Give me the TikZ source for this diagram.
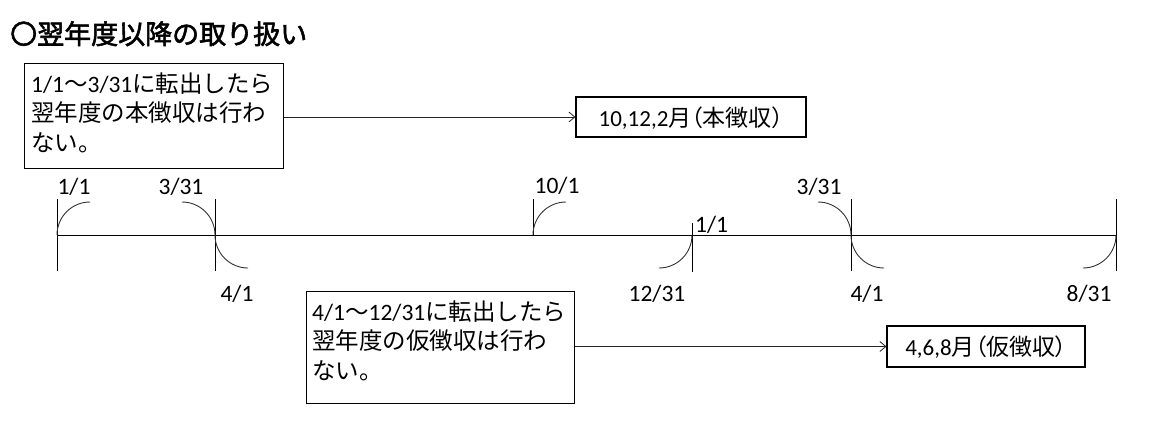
\documentclass[tikz,border=0pt]{standalone}
\usepackage{fontspec}
\setmainfont{Carlito}
\newfontfamily\jpf{Noto Sans CJK JP}
\newfontfamily\jpp[RawFeature=+palt]{Noto Sans CJK JP}
\newfontfamily\jpb[FakeBold=2]{Noto Sans CJK JP}
\newcommand\jtxt[1]{{\jpf #1}}
\newcommand\jpar[1]{{\jpp #1}}
\usetikzlibrary{arrows.meta}
\tikzset{
  txt/.style={inner sep=0pt, font=\fontsize{23.5}{28}\selectfont},
  boxtxt/.style={inner sep=0pt, font=\fontsize{23}{28}\selectfont, text height=20pt, text depth=2pt},
  boxframe/.style={draw=black, line width=1.1pt, inner sep=0pt},
  axisline/.style={draw=black, line width=1pt},
  tickline/.style={draw=black, line width=1pt},
  curvearc/.style={draw=black!80, line width=0.9pt},
  conn/.style={draw=black!85, line width=0.8pt, -{Straight Barb[length=6pt,width=10pt,line width=0.8pt]}}
}
\begin{document}
\begin{tikzpicture}[x=1pt,y=-1pt]
\useasboundingbox (0,0) rectangle (1157,437);
% title
\node[inner sep=0pt, anchor=base west, font=\fontsize{27}{32}\selectfont\jpb] (title) at (10,44) {〇翌年度以降の取り扱い};
% box 1
\node[boxframe, minimum width=259pt, minimum height=105pt, anchor=north west] (b1) at (24,63) {};
\node[txt, anchor=base west] (b1l1) at (31,92) {1/1\jtxt{～}3/31\jtxt{に転出したら}};
\node[txt, anchor=base west] (b1l2) at (31,121.5) {\jtxt{翌年度の本徴収は行わ}};
\node[txt, anchor=base west] (b1l3) at (31,151) {\jtxt{ない。}};
% box 2
\node[boxframe, boxtxt, minimum width=230pt, minimum height=40pt] (b2) at (691,117) {10,12,2\jtxt{月}\jpar{（}\jtxt{本徴収}\jpar{）}};
\draw[conn] (b1.east |- b2.west) -- (b2.west);
% box 3
\node[boxframe, minimum width=268pt, minimum height=112pt, anchor=north west] (b3) at (306,291) {};
\node[txt, anchor=base west] (b3l1) at (312,320) {4/1\jtxt{～}12/31\jtxt{に転出したら}};
\node[txt, anchor=base west] (b3l2) at (312,349.5) {\jtxt{翌年度の仮徴収は行わ}};
\node[txt, anchor=base west] (b3l3) at (312,379) {\jtxt{ない。}};
% box 4
\node[boxframe, boxtxt, minimum width=198pt, minimum height=41pt] (b4) at (986,346.5) {4,6,8\jtxt{月}\jpar{（}\jtxt{仮徴収}\jpar{）}};
\draw[conn] (b3.east |- b4.west) -- (b4.west);
% timeline points
\coordinate (p1) at (57,235);
\coordinate (p2) at (215,235);
\coordinate (p3) at (533,235);
\coordinate (p4) at (692,235);
\coordinate (p5) at (851,235);
\coordinate (p6) at (1116,235);
\draw[axisline] (p1) -- (p6);
% ticks
\draw[tickline] ([yshift=36pt]p1) -- ([yshift=-36pt]p1);
\draw[tickline] ([yshift=36pt]p2) -- ([yshift=-36pt]p2);
\draw[tickline] ([yshift=36pt]p3) -- (p3);
\draw[tickline] ([yshift=12pt]p4) -- ([yshift=-37pt]p4);
\draw[tickline] ([yshift=36pt]p5) -- ([yshift=-36pt]p5);
\draw[tickline] ([yshift=36pt]p6) -- ([yshift=-36pt]p6);
% curves
\draw[curvearc] (p1) arc[start angle=180, end angle=270, radius=33];
\draw[curvearc] (p2) arc[start angle=0, end angle=-90, radius=33];
\draw[curvearc] (p2) arc[start angle=180, end angle=90, radius=33];
\draw[curvearc] (p3) arc[start angle=180, end angle=270, radius=33];
\draw[curvearc] (p4) arc[start angle=0, end angle=90, radius=33];
\draw[curvearc] (p5) arc[start angle=0, end angle=-90, radius=33];
\draw[curvearc] (p5) arc[start angle=180, end angle=90, radius=33];
\draw[curvearc] (p6) arc[start angle=0, end angle=90, radius=33];
% labels
\node[txt, anchor=base] (l1) at (74,194) {1/1};
\node[txt, anchor=base] (l2) at (181,194) {3/31};
\node[txt, anchor=base] (l3) at (237,301) {4/1};
\node[txt, anchor=base] (l4) at (557,193) {10/1};
\node[txt, anchor=base west] (l5) at (695,232) {1/1};
\node[txt, anchor=base] (l6) at (657,301) {12/31};
\node[txt, anchor=base] (l7) at (819,194) {3/31};
\node[txt, anchor=base] (l8) at (867,301) {4/1};
\node[txt, anchor=base] (l9) at (1089,301) {8/31};
\end{tikzpicture}
\end{document}
